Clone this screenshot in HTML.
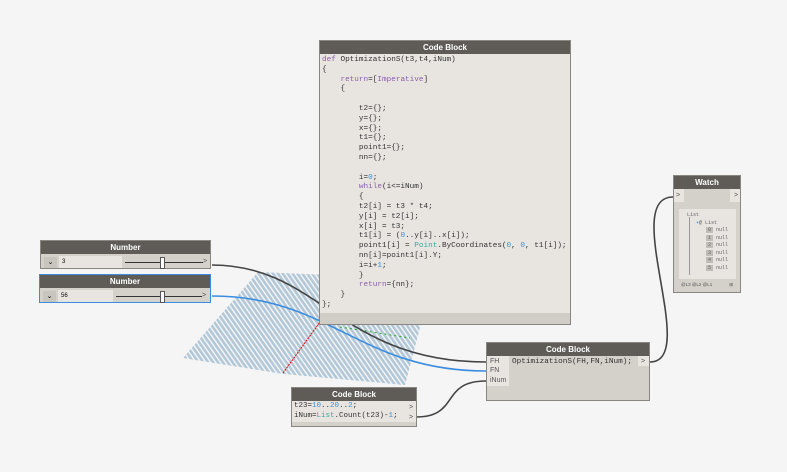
<!DOCTYPE html>
<html><head><meta charset="utf-8"><style>
body{margin:0;width:787px;height:472px;background:#f5f5f5;position:relative;overflow:hidden;font-family:"Liberation Sans",sans-serif}
.n{position:absolute;background:#d4d0ca;border:1px solid #8a8783;box-sizing:border-box}
.h{background:#5f5c58;color:#fff;font-size:8px;font-weight:bold;text-align:center;height:13px;line-height:13px}
.code{font-family:"Liberation Mono",monospace;font-size:7.7px;color:#333;white-space:pre;line-height:9.8px}
.k{color:#8b5ea8}.b{color:#3d8fd6}.t{color:#3aa8a0}
.p{position:absolute;font-size:7px;color:#555}
</style></head><body>
<svg width="787" height="472" style="position:absolute;left:0;top:0">
<defs><pattern id="hp" width="4" height="4" patternUnits="userSpaceOnUse" patternTransform="rotate(-35)"><rect width="4" height="4" fill="#b3c7d6"/><rect width="1.5" height="4" fill="#fff" opacity=".8"/></pattern></defs>
<polygon points="183,358 258,272 330,275 422,320 405,385 283,374" fill="url(#hp)"/>
<line x1="283" y1="373" x2="320" y2="322" stroke="#e00" stroke-width="1" stroke-dasharray="2,1"/>
<path d="M340,327 L410,338" stroke="#2a2" stroke-width="1" stroke-dasharray="2,3"/>
<path d="M212,265 C320,265 340,362 486,362" stroke="#444" stroke-width="1.6" fill="none"/>
<path d="M212,296 C330,296 360,371 486,371" stroke="#3a8de0" stroke-width="1.6" fill="none"/>
<path d="M416,417 C460,417 440,381 486,381" stroke="#444" stroke-width="1.6" fill="none"/>
<path d="M650,362 C700,362 620,197 673,197" stroke="#444" stroke-width="1.6" fill="none"/>
</svg>

<div class="n" style="left:319px;top:40px;width:252px;height:285px;background:#e8e5e1">
<div class="h">Code Block</div>
<div class="code" style="padding:2px 2px"><span class="k">def</span> OptimizationS(t3,t4,iNum)
{
    <span class="k">return</span>=[<span class="k">Imperative</span>]
    {

        t2={};
        y={};
        x={};
        t1={};
        point1={};
        nn={};

        i=<span class="b">0</span>;
        <span class="k">while</span>(i&lt;=iNum)
        {
        t2[i] = t3 * t4;
        y[i] = t2[i];
        x[i] = t3;
        t1[i] = (<span class="b">0</span>..y[i]..x[i]);
        point1[i] = <span class="t">Point</span>.ByCoordinates(<span class="b">0</span>, <span class="b">0</span>, t1[i]);
        nn[i]=point1[i].Y;
        i=i+<span class="b">1</span>;
        }
        <span class="k">return</span>={nn};
    }
};</div>
<div style="position:absolute;left:0;right:0;bottom:0;height:11px;background:#d0ccc6"></div>
</div>

<div class="n" style="left:40px;top:240px;width:171px;height:29px">
<div class="h">Number</div>
<div style="position:absolute;left:3px;top:16px;width:13px;height:11px;background:#c8c4be;font-size:7px;text-align:center;line-height:11px">⌄</div>
<div style="position:absolute;left:18px;top:15px;width:60px;height:12px;background:#e8e5e1;font-size:6px;line-height:12px;padding-left:3px">3</div>
<div style="position:absolute;left:84px;top:21px;width:78px;height:1px;background:#333"></div>
<div style="position:absolute;left:119px;top:16px;width:3px;height:10px;background:#fff;border:1px solid #555"></div>
<div class="p" style="left:162px;top:17px">&gt;</div>
</div>
<div class="n" style="left:39px;top:274px;width:172px;height:29px;border:1.5px solid #3a8de0">
<div class="h">Number</div>
<div style="position:absolute;left:3px;top:16px;width:13px;height:11px;background:#c8c4be;font-size:7px;text-align:center;line-height:11px">⌄</div>
<div style="position:absolute;left:18px;top:15px;width:52px;height:12px;background:#e8e5e1;font-size:6px;line-height:12px;padding-left:3px">56</div>
<div style="position:absolute;left:76px;top:21px;width:86px;height:1px;background:#333"></div>
<div style="position:absolute;left:120px;top:16px;width:3px;height:10px;background:#fff;border:1px solid #555"></div>
<div class="p" style="left:162px;top:17px">&gt;</div>
</div>

<div class="n" style="left:291px;top:387px;width:126px;height:40px">
<div class="h">Code Block</div>
<div style="background:#e8e5e1;height:21px"><div class="code" style="padding:1px 2px;font-size:7.5px">t23=<span class="b">10</span>..<span class="b">20</span>..<span class="b">2</span>;
iNum=<span class="t">List</span>.Count(t23)-<span class="b">1</span>;</div></div>
<div class="p" style="left:117px;top:16px">&gt;</div><div class="p" style="left:117px;top:26px">&gt;</div>
</div>

<div class="n" style="left:486px;top:342px;width:164px;height:59px">
<div class="h">Code Block</div>
<div style="position:absolute;left:0;top:13px;width:22px;height:30px;background:#e8e5e1"></div>
<div class="p" style="left:3px;top:15px">FH</div><div class="p" style="left:3px;top:24px">FN</div><div class="p" style="left:3px;top:34px">iNum</div>
<div class="code" style="position:absolute;left:25px;top:15px">OptimizationS(FH,FN,iNum);</div>
<div style="position:absolute;right:0;top:13px;width:11px;height:10px;background:#e8e5e1"></div>
<div class="p" style="left:154px;top:15px">&gt;</div>
</div>

<div class="n" style="left:673px;top:175px;width:68px;height:118px">
<div class="h">Watch</div>
<div style="position:absolute;left:0;top:13px;width:10px;height:13px;background:#e8e5e1"></div>
<div style="position:absolute;right:0;top:13px;width:10px;height:13px;background:#e8e5e1"></div>
<div class="p" style="left:2px;top:16px">&gt;</div><div class="p" style="left:60px;top:16px">&gt;</div>
<div style="position:absolute;left:5px;top:33px;width:57px;height:70px;background:#e8e5e1;font-family:'Liberation Mono',monospace;font-size:5px;color:#666;line-height:7.5px">
<div style="padding-left:8px;padding-top:3px">List</div>
<div style="padding-left:17px"><span style="color:#3a8de0">▾</span>@ List</div>
<div style="padding-left:27px"><span style="background:#c0bdb8;padding:0 2px">0</span> null<br><span style="background:#c0bdb8;padding:0 2px">1</span> null<br><span style="background:#c0bdb8;padding:0 2px">2</span> null<br><span style="background:#c0bdb8;padding:0 2px">3</span> null<br><span style="background:#c0bdb8;padding:0 2px">4</span> null<br><span style="background:#c0bdb8;padding:0 2px">5</span> null</div>
<div style="position:absolute;left:10px;top:8px;width:1px;height:58px;background:#999"></div>
</div>
<div style="position:absolute;left:5px;top:104px;width:57px;height:10px;font-size:4.5px;color:#555;line-height:10px;padding-left:2px">@L3 @L2 @L1<span style="float:right;margin-right:5px">⊞</span></div>
</div>
</body></html>
